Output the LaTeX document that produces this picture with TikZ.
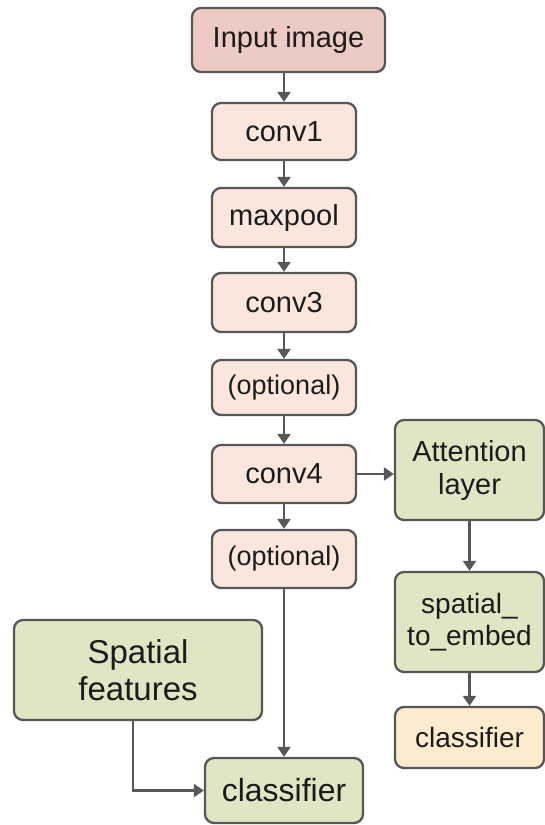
\documentclass[tikz,border=0pt]{standalone}
\usepackage{fontspec}
\setmainfont{Liberation Sans}
\usetikzlibrary{arrows.meta}
\definecolor{edge}{HTML}{575757}
\definecolor{ink}{HTML}{1C1C1C}
\definecolor{pinkfill}{HTML}{FBE6DD}
\definecolor{inputfill}{HTML}{EDCAC3}
\definecolor{greenfill}{HTML}{DEE6C3}
\definecolor{creamfill}{HTML}{FCEBCC}
\tikzset{
  box/.style={draw=edge, line width=2.3pt, rounded corners=9pt, inner sep=0pt,
    align=center, text=ink, font=\fontsize{29}{33}\selectfont},
  layer/.style={box, fill=pinkfill, minimum width=144pt},
  green/.style={box, fill=greenfill},
  arr/.style={draw=edge, line width=2.3pt, -{Triangle[length=10pt,width=13pt]}},
}
\begin{document}
\begin{tikzpicture}[x=1pt,y=-1pt]
\useasboundingbox (0,0) rectangle (545,825);
% backbone column
\node[box, fill=inputfill, minimum width=193pt, minimum height=64pt] (input) at (288.5,40) {Input image};
\node[layer, minimum height=57pt] (conv1) at (284,131.5) {conv1};
\node[layer, minimum height=59pt] (maxpool) at (284,217.5) {maxpool};
\node[layer, minimum height=59pt] (conv3) at (284,302.5) {conv3};
\node[layer, minimum height=55pt, font=\fontsize{27}{31}\selectfont] (opt1) at (284,387.5) {(optional)};
\node[layer, minimum height=58pt] (conv4) at (284,474) {conv4};
\node[layer, minimum height=58pt, font=\fontsize{27}{31}\selectfont] (opt2) at (284,559) {(optional)};
% attention branch
\node[green, minimum width=149pt, minimum height=100pt] (attn) at (469.5,470) {Attention\\layer};
\node[green, minimum width=149pt, minimum height=100pt, font=\fontsize{28}{32}\selectfont] (s2e) at (469.5,622) {spatial\_\\to\_embed};
\node[box, fill=creamfill, minimum width=149pt, minimum height=61pt, font=\fontsize{28}{32}\selectfont] (clsR) at (469.5,737.5) {classifier};
% spatial features head
\node[green, minimum width=248pt, minimum height=100pt, font=\fontsize{33}{37}\selectfont] (spat) at (138,670) {Spatial\\features};
\node[green, minimum width=158pt, minimum height=65pt, font=\fontsize{32}{36}\selectfont] (clsB) at (284,790.5) {classifier};
% connectors
\draw[arr] (input.south -| conv1.north) -- (conv1.north);
\draw[arr] (conv1) -- (maxpool);
\draw[arr] (maxpool) -- (conv3);
\draw[arr] (conv3) -- (opt1);
\draw[arr] (opt1) -- (conv4);
\draw[arr] (conv4) -- (opt2);
\draw[arr] (conv4.east) -- (conv4.east -| attn.west);
\draw[arr] (attn) -- (s2e);
\draw[arr] (s2e) -- (clsR);
\draw[arr] (opt2) -- (clsB);
\draw[arr] ([xshift=-5pt]spat.south) |- (clsB.west);
\end{tikzpicture}
\end{document}
